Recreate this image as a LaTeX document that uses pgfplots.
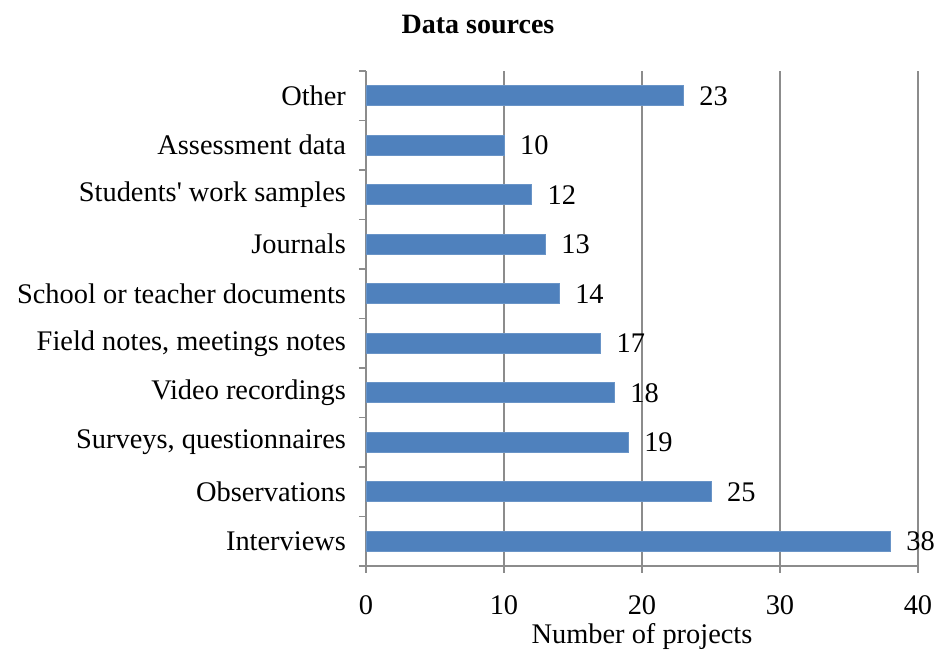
\documentclass[border=0pt]{standalone}
\usepackage{pgfplots}
\pgfplotsset{compat=1.18}
\usepackage{fontspec}
\setmainfont{Liberation Serif}
\definecolor{barblue}{HTML}{4F81BD}
\definecolor{gridgray}{HTML}{8C8C8C}

\begin{document}
\begin{tikzpicture}
\begin{axis}[
  name=ax,
  scale only axis,
  width=276pt, height=247.5pt,
  xbar, bar width=10pt,
  xmin=0, xmax=40,
  ymin=-0.5, ymax=9.5,
  axis lines*=left,
  axis line style={gridgray, line width=0.8pt},
  xtick={0,10,20,30,40},
  xmajorgrids,
  major grid style={gridgray, line width=0.8pt},
  tick style={gridgray, line width=0.8pt},
  major tick length=3.5pt,
  tick align=outside,
  % category boundaries carry the tick marks
  ytick={-0.5,0.5,...,9.5},
  yticklabels={},
  % category names sit at the bar centres, without marks
  extra y ticks={0,...,9},
  extra y tick labels={Interviews, Observations, {Surveys, questionnaires}, Video recordings, {Field notes, meetings notes}, School or teacher documents\ , Journals, Students\textquotesingle\ work samples, Assessment data, Other\ },
  extra y tick style={tick style={draw=none}, grid=none,
    yticklabel style={font=\fontsize{14.2}{16}\selectfont, xshift=-3pt}},
  xticklabel style={font=\fontsize{14.2}{16}\selectfont, yshift=-8pt},
  /pgf/number format/assume math mode=true,
  xlabel={Number of projects},
  xlabel style={font=\fontsize{14.2}{16}\selectfont,
    at={(axis description cs:0.5,0)}, anchor=center, yshift=-35.5pt},
  nodes near coords,
  nodes near coords style={font=\fontsize{14.2}{16}\selectfont, anchor=west, xshift=4.5pt, text=black},
  clip=false,
]
\addplot[fill=barblue, draw=barblue!85!white] coordinates {
  (38,0) (25,1) (19,2) (18,3) (17,4) (14,5) (13,6) (12,7) (10,8) (23,9)
};
\end{axis}
\node[font=\bfseries\fontsize{14}{16}\selectfont] at ([xshift=56pt, yshift=23pt]ax.north west) {Data sources};
\pgfresetboundingbox
\path ([xshift=-183pt, yshift=-43pt]ax.south west) rectangle ([xshift=9pt, yshift=35.5pt]ax.north east);
\end{tikzpicture}
\end{document}
